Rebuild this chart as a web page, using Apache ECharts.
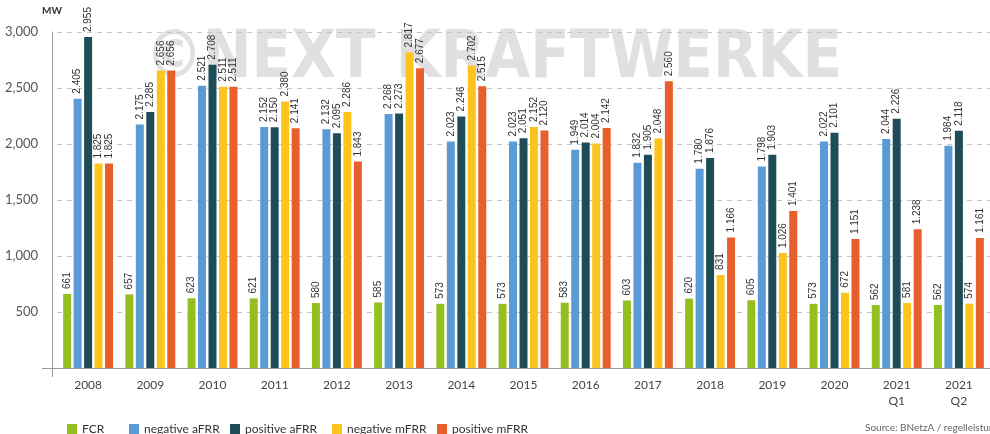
<!DOCTYPE html>
<html>
<head>
<meta charset="utf-8">
<script src="https://cdn.jsdelivr.net/npm/echarts@6/dist/echarts.min.js"></script>
<style>
  html, body { margin: 0; padding: 0; background: #ffffff; }
  #chart { width: 990px; height: 434px; }
</style>
</head>
<body>
<div id="chart"></div>
<script>
// Balancing reserve procurement volumes (MW) per year
const categories = ['2008', '2009', '2010', '2011', '2012', '2013', '2014', '2015',
  '2016', '2017', '2018', '2019', '2020', '2021\nQ1', '2021\nQ2'];

const fcr           = [661, 657, 623, 621, 580, 585, 573, 573, 583, 603, 620, 605, 573, 562, 562];
const negativeAFRR  = [2405, 2175, 2521, 2152, 2132, 2268, 2023, 2023, 1949, 1832, 1780, 1798, 2022, 2044, 1984];
const positiveAFRR  = [2955, 2285, 2708, 2150, 2095, 2273, 2246, 2051, 2014, 1905, 1876, 1903, 2101, 2226, 2118];
const negativeMFRR  = [1825, 2656, 2511, 2380, 2286, 2817, 2702, 2152, 2004, 2048, 831, 1026, 672, 581, 574];
const positiveMFRR  = [1825, 2656, 2511, 2141, 1843, 2677, 2515, 2120, 2142, 2560, 1166, 1401, 1151, 1238, 1161];

const yTicks = [0, 500, 1000, 1500, 2000, 2500, 3000];

const seriesDefs = [
  { name: 'FCR',           data: fcr,          color: '#93c01f' },
  { name: 'negative aFRR', data: negativeAFRR, color: '#5b9bd5' },
  { name: 'positive aFRR', data: positiveAFRR, color: '#1e4d58' },
  { name: 'negative mFRR', data: negativeMFRR, color: '#fcc41c' },
  { name: 'positive mFRR', data: positiveMFRR, color: '#e95f2b' }
];

// German-style thousands separator for the bar labels
const dotFormat = v => String(v).replace(/\B(?=(\d{3})+(?!\d))/g, '.');
// Comma separator for the value axis
const commaFormat = v => String(v).replace(/\B(?=(\d{3})+(?!\d))/g, ',');

const legendLefts = [67, 129, 230, 332, 437];

const chart = echarts.init(document.getElementById('chart'), null, { renderer: 'canvas' });

chart.setOption({
  animation: false,
  backgroundColor: '#ffffff',
  textStyle: { fontFamily: 'Lato, "Noto Sans", sans-serif' },
  grid: { left: 57, right: -3, top: 32, bottom: 66, containLabel: false },
  legend: seriesDefs.map((s, i) => ({
    data: [s.name],
    left: legendLefts[i],
    top: 423,
    icon: 'rect',
    itemWidth: 10,
    itemHeight: 10,
    itemGap: 0,
    padding: 0,
    textStyle: { fontSize: 12, color: '#333333', fontFamily: 'Lato, sans-serif', padding: [0, 0, 0, 0] }
  })),
  xAxis: {
    type: 'category',
    data: categories,
    axisLine: { lineStyle: { color: '#9a9a9a', width: 1 } },
    axisTick: { show: false },
    axisLabel: {
      color: '#444444',
      fontSize: 12,
      margin: 9,
      lineHeight: 16,
      fontFamily: 'Lato, sans-serif'
    }
  },
  yAxis: {
    type: 'value',
    min: yTicks[0],
    max: yTicks[yTicks.length - 1],
    interval: 500,
    offset: 5,
    name: 'MW',
    nameLocation: 'end',
    nameGap: 16,
    nameTextStyle: { fontSize: 10, fontWeight: 'bold', color: '#333333', align: 'center' },
    axisLine: { show: true, lineStyle: { color: '#9a9a9a', width: 1 } },
    axisTick: { show: false },
    axisLabel: {
      showMinLabel: false,
      color: '#555555',
      fontSize: 13,
      margin: 14,
      formatter: commaFormat,
      fontFamily: 'Lato, sans-serif'
    },
    splitLine: { lineStyle: { color: '#c4c4c4', type: [5, 5], width: 1 } }
  },
  graphic: [
    {
      type: 'text',
      z: -10,
      silent: true,
      style: {
        text: '\u00A9NEXT KRAFTWERKE',
        x: 145,
        y: 60,
        fill: '#e0e0e0',
        font: 'bold 58px "DejaVu Sans", sans-serif',
        textAlign: 'left',
        textVerticalAlign: 'middle'
      },
      scaleY: 1.15,
      originY: 60
    },
    {
      type: 'line',
      silent: true,
      shape: { x1: 42, y1: 368.5, x2: 57, y2: 368.5 },
      style: { stroke: '#9a9a9a', lineWidth: 1 }
    },
    {
      type: 'line',
      silent: true,
      shape: { x1: 52.5, y1: 368, x2: 52.5, y2: 377 },
      style: { stroke: '#9a9a9a', lineWidth: 1 }
    },
    {
      type: 'text',
      silent: true,
      style: {
        text: 'Source: BNetzA / regelleistung.net',
        x: 865,
        y: 428,
        fill: '#666666',
        font: '10px Lato, sans-serif',
        textVerticalAlign: 'middle'
      }
    }
  ],
  series: seriesDefs.map(s => ({
    name: s.name,
    type: 'bar',
    data: s.data,
    barWidth: 8,
    barGap: '31%',
    itemStyle: { color: s.color },
    label: {
      show: true,
      position: 'top',
      rotate: 90,
      align: 'left',
      verticalAlign: 'middle',
      distance: 5,
      fontSize: 10,
      color: '#333333',
      fontFamily: '"Liberation Sans Narrow", "Liberation Sans", sans-serif',
      formatter: p => dotFormat(p.value)
    }
  }))
});
</script>
</body>
</html>
